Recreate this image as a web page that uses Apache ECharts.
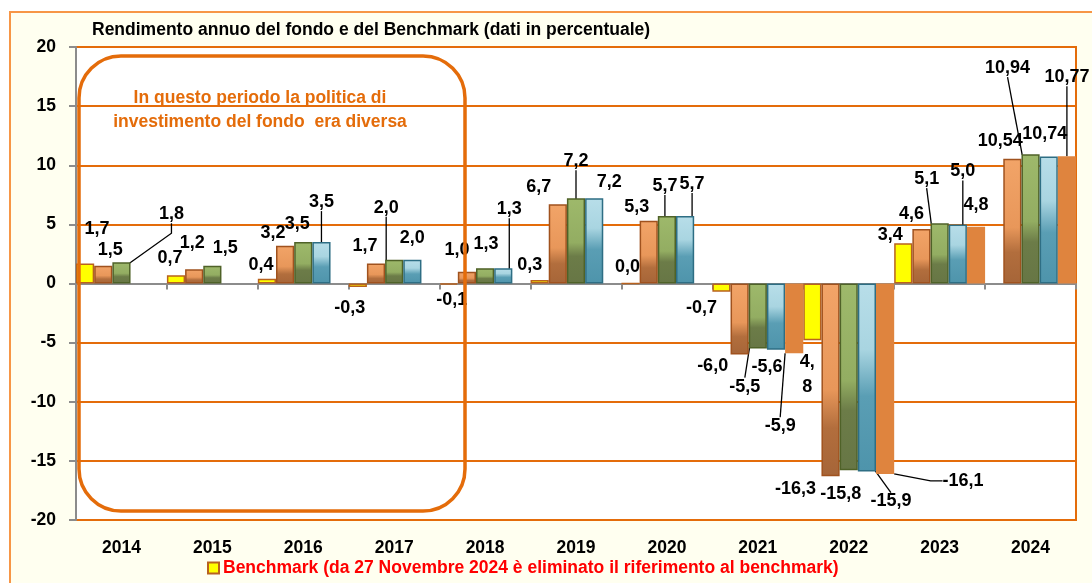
<!DOCTYPE html>
<html>
<head>
<meta charset="utf-8">
<script src="https://cdn.jsdelivr.net/npm/echarts@6/dist/echarts.min.js"></script>
<style>
  html, body { margin: 0; padding: 0; background: #fff; }
  #chart { width: 1092px; height: 583px; }
</style>
</head>
<body>
<div id="chart"></div>
<script>
// dati del grafico
const years = ['2014', '2015', '2016', '2017', '2018', '2019', '2020', '2021', '2022', '2023', '2024'];
const benchmark = [1.7, 0.7, 0.4, -0.3, -0.1, 0.3, 0.0, -0.7, -4.8, 3.4, null];
const serie2 = [1.5, 1.2, 3.2, 1.7, 1.0, 6.7, 5.3, -6.0, -16.3, 4.6, 10.54];
const serie3 = [1.8, 1.5, 3.5, 2.0, 1.3, 7.2, 5.7, -5.5, -15.8, 5.1, 10.94];
const serie4 = [null, null, 3.5, 2.0, 1.3, 7.2, 5.7, -5.6, -15.9, 5.0, 10.74];
const serie5 = [null, null, null, null, null, null, null, -5.9, -16.1, 4.8, 10.77];
const yTicks = [-20, -15, -10, -5, 0, 5, 10, 15, 20];

const legendText = 'Benchmark (da 27 Novembre 2024 è eliminato il riferimento al benchmark)';
const noteLines = ['In questo periodo la politica di', 'investimento del fondo  era diversa'];

// spostamenti delle etichette (px), come nel grafico Excel
const labelShift = [
  [[12, -23], [-6, -6], [-6, -3], [-8, 10], [3, 4], [-10, -4], [-3, -5], [-20, 5], [-5, 7], [-13, 3], null],
  [[7, -5], [-2, -15], [-12, -2], [-11, -6], [-10, -11], [-19, -6], [-12, -3], [-27, 1], [-35, 2], [-10, -4], [-12, -7]],
  [[50, -37], [13, -7], [-6, -7], [-8, -41], [1, -13], [0, -26], [-2, -19], [-13, 27], [-8, 13], [-13, -33], [-23, -75]],
  [null, null, [0, -29], [0, -11], [6, -48], [15, -5], [7, -21], [-9, 6], [24, 19], [5, -42], [-4, -11]],
  [null, null, null, null, null, null, null, [-14, 62], [78, -4], [0, -11], [0, -68]]
];
// etichette con linea di richiamo: [serie, indice, length2]
const leaders = [[2, 0, 10], [3, 2, 0], [2, 3, 0], [3, 4, 0], [2, 5, 0], [2, 6, 0], [3, 6, 0],
  [2, 7, 0], [4, 7, 0], [3, 8, 0], [4, 8, 12], [2, 9, 0], [3, 9, 0], [2, 10, 0], [4, 10, 0]];

const FONT = "'Liberation Sans', Arial, sans-serif";
const ORANGE = '#E46C0A';

const fmt = (v) => {
  const s = Math.round(Math.abs(v) * 100) % 10 !== 0 ? v.toFixed(2) : v.toFixed(1);
  return s.replace('.', ',');
};

const grad = (stops) => new echarts.graphic.LinearGradient(0, 0, 0, 1,
  stops.map(s => ({ offset: s[0], color: s[1] })));

const styles = [
  { color: '#FFFF00', borderColor: '#B8621E', borderWidth: 1.5 },
  { color: grad([[0, '#F2A468'], [0.55, '#E8975A'], [0.75, '#B26E3D'], [1, '#A66538']]), borderColor: '#A0521E', borderWidth: 1.5 },
  { color: grad([[0, '#9EB96B'], [0.52, '#93AD62'], [0.68, '#6C7C48'], [1, '#677645']]), borderColor: '#4F6228', borderWidth: 1.5 },
  { color: grad([[0, '#B8DEE9'], [0.35, '#A9D5E1'], [0.6, '#5A9EB4'], [1, '#4E94AB']]), borderColor: '#2E6E84', borderWidth: 1.5 },
  { color: '#DF843E', borderWidth: 0 }
];

const names = ['Benchmark', 'Serie 2', 'Serie 3', 'Serie 4', 'Serie 5'];
const values = [benchmark, serie2, serie3, serie4, serie5];

const series = values.map((arr, si) => ({
  name: names[si],
  type: 'bar',
  xAxisIndex: 0,
  barGap: '0%',
  barCategoryGap: '0%',
  itemStyle: styles[si],
  label: {
    show: true,
    distance: 2,
    color: '#000',
    fontFamily: FONT,
    fontWeight: 'bold',
    fontSize: 18,
    formatter: (p) => fmt(p.value)
  },
  labelLine: { show: false, lineStyle: { color: '#000', width: 1.3 } },
  labelLayout: (p) => {
    const s = labelShift[si][p.dataIndex];
    return s ? { dx: s[0], dy: s[1] } : {};
  },
  data: arr.map((v, i) => {
    if (v === null) return null;
    const item = { value: v, label: { position: v >= 0 ? 'top' : 'bottom' } };
    const ld = leaders.find(l => l[0] === si && l[1] === i);
    if (ld) item.labelLine = { show: true, length2: ld[2] };
    if (si === 0 && years[i] === '2022') {
      item.label.formatter = '4,\n8';
      item.label.lineHeight = 25;
    }
    return item;
  })
}));

const chart = echarts.init(document.getElementById('chart'));
chart.setOption({
  animation: false,
  backgroundColor: '#fff',
  title: {
    text: 'Rendimento annuo del fondo e del Benchmark (dati in percentuale)',
    left: 92,
    top: 21,
    padding: 0,
    textStyle: { fontFamily: FONT, fontWeight: 'bold', fontSize: 17.5, color: '#000' }
  },
  legend: {
    data: ['Benchmark'],
    left: 202,
    top: 554,
    icon: 'rect',
    itemWidth: 11,
    itemHeight: 11,
    itemGap: 4,
    formatter: () => legendText,
    textStyle: { color: '#FF0000', fontFamily: FONT, fontWeight: 'bold', fontSize: 17.5, padding: [0, 0, 0, -1] }
  },
  grid: {
    left: 76, right: 16, top: 47, bottom: 63,
    show: true,
    backgroundColor: '#fff',
    borderColor: ORANGE,
    borderWidth: 2
  },
  xAxis: [
    {
      type: 'category',
      data: years,
      position: 'bottom',
      axisLine: { show: false, onZero: false },
      axisTick: { show: false },
      axisLabel: { margin: 19, color: '#000', fontFamily: FONT, fontWeight: 'bold', fontSize: 17.5 }
    },
    {
      type: 'category',
      data: years,
      position: 'bottom',
      axisLine: { show: true, onZero: true, lineStyle: { color: '#8C8C8C', width: 2 } },
      axisTick: { show: true, interval: 0, length: 6, lineStyle: { color: '#8C8C8C', width: 2 } },
      axisLabel: { show: false },
      splitLine: { show: false }
    }
  ],
  yAxis: {
    type: 'value',
    min: yTicks[0],
    max: yTicks[yTicks.length - 1],
    interval: 5,
    axisLine: { show: true, lineStyle: { color: '#8C8C8C', width: 2 } },
    axisTick: { show: true, length: 7, lineStyle: { color: '#8C8C8C', width: 2 } },
    axisLabel: { margin: 20, color: '#000', fontFamily: FONT, fontWeight: 'bold', fontSize: 17.5 },
    splitLine: { show: true, lineStyle: { color: ORANGE, width: 2 } }
  },
  graphic: [
    {
      type: 'rect',
      z: -10,
      silent: true,
      shape: { x: 10, y: 12, width: 1100, height: 600 },
      style: { fill: '#FFFFF0', stroke: '#F79646', lineWidth: 2 }
    },
    {
      type: 'rect',
      z: 100,
      silent: true,
      shape: { x: 79, y: 56, width: 386, height: 455, r: 42 },
      style: { fill: 'none', stroke: ORANGE, lineWidth: 3.5 }
    },
    {
      type: 'text',
      z: 100,
      silent: true,
      x: 260,
      y: 86,
      style: {
        text: noteLines.join('\n'),
        align: 'center',
        verticalAlign: 'top',
        lineHeight: 24,
        fill: ORANGE,
        font: "bold 17.5px " + FONT
      }
    }
  ],
  series: series
});
</script>
</body>
</html>
